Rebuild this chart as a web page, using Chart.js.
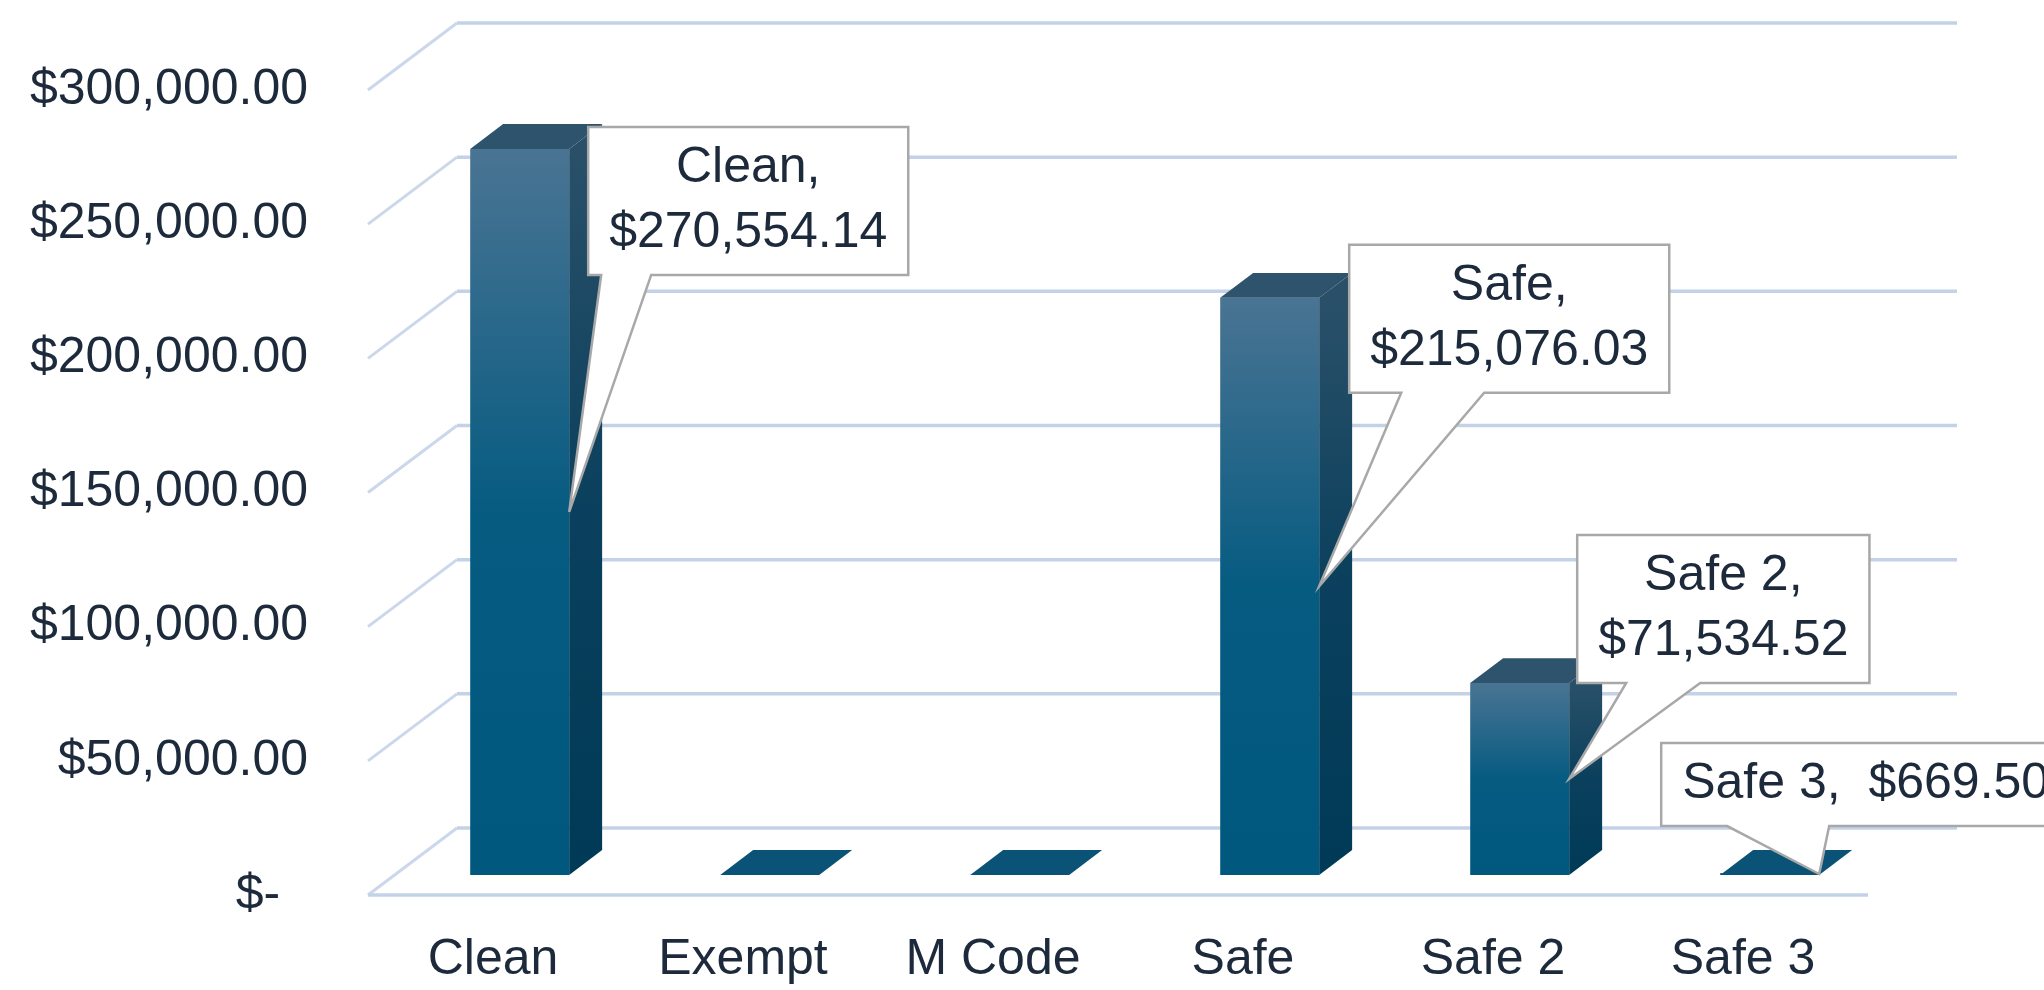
<!DOCTYPE html>
<html>
<head>
<meta charset="utf-8">
<title>Totals by category</title>
<script src="https://cdn.jsdelivr.net/npm/chart.js@4.4.1/dist/chart.umd.min.js"></script>
<style>
  html, body { margin: 0; padding: 0; background: #fff; }
  #wrap { position: relative; width: 2044px; height: 990px; }
</style>
</head>
<body>
<div id="wrap"><canvas id="totalsChart"></canvas></div>
<script>
// ===== Data =====
const categories = ['Clean', 'Exempt', 'M Code', 'Safe', 'Safe 2', 'Safe 3'];
const totals = [270554.14, 0, 0, 215076.03, 71534.52, 669.50];
const yTickValues = [0, 50000, 100000, 150000, 200000, 250000, 300000];

// callout boxes: offset from the bar's front top-right corner, wrap, wedge base on box bottom
const calloutLayout = [
    { dx: 19, dy: -22, wrap: true, base: [13, 63] },
    null,
    null,
    { dx: 30, dy: -53, wrap: true, base: [52, 135] },
    { dx: 8, dy: -148, wrap: true, base: [49, 123] },
    { dx: -158, dy: -130, wrap: false, base: [66, 168] }
];

const FONT = "'Liberation Sans', Arial, sans-serif";
const TEXT = '#1c2a3b';
const DEPTH = { x: 89, y: -67 };    // full floor depth (oblique)
const BAR_FRONT = 0.3, BAR_BACK = 0.67;

const moneyFmt = new Intl.NumberFormat('en-US', { minimumFractionDigits: 2, maximumFractionDigits: 2 });
const money = v => '$' + moneyFmt.format(v);

function strokeLine(ctx, x1, y1, x2, y2) {
    ctx.beginPath();
    ctx.moveTo(x1, y1);
    ctx.lineTo(x2, y2);
    ctx.stroke();
}

function poly(ctx, pts, fill) {
    ctx.beginPath();
    ctx.moveTo(pts[0][0], pts[0][1]);
    for (let i = 1; i < pts.length; i++) ctx.lineTo(pts[i][0], pts[i][1]);
    ctx.closePath();
    ctx.fillStyle = fill;
    ctx.fill();
}

// Walls, floor and the extra faces of the bars
const threeD = {
    id: 'threeD',
    beforeDatasetsDraw(chart) {
        const { ctx, chartArea: a, scales: { y } } = chart;
        ctx.save();
        ctx.lineCap = 'butt';
        yTickValues.forEach(v => {
            const py = y.getPixelForValue(v);
            ctx.strokeStyle = '#cbd7ea';
            ctx.lineWidth = 3;
            strokeLine(ctx, a.left, py, a.left + DEPTH.x, py + DEPTH.y);
            ctx.strokeStyle = '#c4d2e7';
            ctx.lineWidth = 3.5;
            strokeLine(ctx, a.left + DEPTH.x, py + DEPTH.y, a.right + DEPTH.x, py + DEPTH.y);
        });
        const y0 = y.getPixelForValue(0);
        strokeLine(ctx, a.left, y0, a.right, y0);
        ctx.restore();

        // bars sit part way into the floor
        ctx.save();
        ctx.translate(DEPTH.x * BAR_FRONT, DEPTH.y * BAR_FRONT);
    },
    afterDatasetsDraw(chart) {
        const ctx = chart.ctx;
        ctx.restore();

        const ox = DEPTH.x * BAR_FRONT, oy = DEPTH.y * BAR_FRONT;
        const dx = DEPTH.x * (BAR_BACK - BAR_FRONT), dy = DEPTH.y * (BAR_BACK - BAR_FRONT);
        const meta = chart.getDatasetMeta(0);
        const boxes = [];

        meta.data.forEach((bar, i) => {
            const p = bar.getProps(['x', 'y', 'base', 'width'], true);
            const L = p.x - p.width / 2 + ox, R = p.x + p.width / 2 + ox;
            const T = p.y + oy, B = p.base + oy;
            boxes.push({ R, T, B });

            if (B - T < 4) {
                poly(ctx, [[L, B], [R, B], [R + dx, B + dy], [L + dx, B + dy]], '#0b5376');
                return;
            }
            const side = ctx.createLinearGradient(0, T, 0, B);
            side.addColorStop(0, '#2a5069');
            side.addColorStop(0.5, '#0a405d');
            side.addColorStop(1, '#003a56');
            poly(ctx, [[R, T], [R + dx, T + dy], [R + dx, B + dy], [R, B]], side);
            poly(ctx, [[L, T], [L + dx, T + dy], [R + dx, T + dy], [R, T]], '#2e536c');
        });

        // callouts
        ctx.save();
        ctx.font = '50px ' + FONT;
        ctx.textAlign = 'center';
        ctx.textBaseline = 'middle';
        meta.data.forEach((bar, i) => {
            const lay = calloutLayout[i];
            if (!lay) return;
            const { R, T, B } = boxes[i];
            const lines = lay.wrap
                ? [categories[i] + ',', money(totals[i])]
                : [categories[i] + ',  ' + money(totals[i])];
            const w = Math.max(...lines.map(s => ctx.measureText(s).width)) + 42;
            const h = lines.length * 65 + 18;
            const bx = R + lay.dx, by = T + lay.dy;
            const tipX = R, tipY = (T + B) / 2;

            ctx.beginPath();
            ctx.moveTo(bx, by);
            ctx.lineTo(bx + w, by);
            ctx.lineTo(bx + w, by + h);
            ctx.lineTo(bx + lay.base[1], by + h);
            ctx.lineTo(tipX, tipY);
            ctx.lineTo(bx + lay.base[0], by + h);
            ctx.lineTo(bx, by + h);
            ctx.closePath();
            ctx.fillStyle = '#ffffff';
            ctx.fill();
            ctx.strokeStyle = '#a8a8a8';
            ctx.lineWidth = 2.5;
            ctx.lineJoin = 'miter';
            ctx.stroke();

            ctx.fillStyle = TEXT;
            lines.forEach((s, k) => {
                ctx.fillText(s, bx + w / 2, by + 9 + 32.5 + k * 65);
            });
        });
        ctx.restore();
    }
};

const ctxEl = document.getElementById('totalsChart');
new Chart(ctxEl, {
    type: 'bar',
    data: {
        labels: categories,
        datasets: [{
            data: totals,
            backgroundColor: function(context) {
                const chart = context.chart;
                const y = chart.scales.y;
                if (!chart.chartArea || !y) return '#045b82';
                const top = y.getPixelForValue(context.raw || 0);
                const base = y.getPixelForValue(0);
                if (base - top < 1) return '#045b82';
                const g = chart.ctx.createLinearGradient(0, top, 0, base);
                g.addColorStop(0, '#4a7493');
                g.addColorStop(0.5, '#065b81');
                g.addColorStop(1, '#00587f');
                return g;
            },
            borderWidth: 0,
            barPercentage: 0.396,
            categoryPercentage: 1.0
        }]
    },
    options: {
        responsive: true,
        maintainAspectRatio: false,
        animation: false,
        events: [],
        clip: false,
        layout: { padding: { top: 82, right: 176, bottom: 0, left: 0 } },
        plugins: {
            legend: { display: false },
            tooltip: { enabled: false }
        },
        scales: {
            x: {
                grid: { display: false, drawTicks: false },
                border: { display: false },
                ticks: { color: TEXT, font: { family: FONT, size: 50 }, padding: 35, maxRotation: 0 },
                afterFit: scale => { scale.height = 95; }
            },
            y: {
                min: 0,
                max: yTickValues[yTickValues.length - 1],
                afterBuildTicks: scale => { scale.ticks = yTickValues.map(v => ({ value: v })); },
                grid: { display: false, drawTicks: false },
                border: { display: false },
                ticks: {
                    color: TEXT,
                    font: { family: FONT, size: 50 },
                    padding: 60,
                    callback: v => v === 0 ? '$-  ' : money(v)
                },
                afterFit: scale => { scale.width = 368; }
            }
        }
    },
    plugins: [threeD]
});
</script>
</body>
</html>
